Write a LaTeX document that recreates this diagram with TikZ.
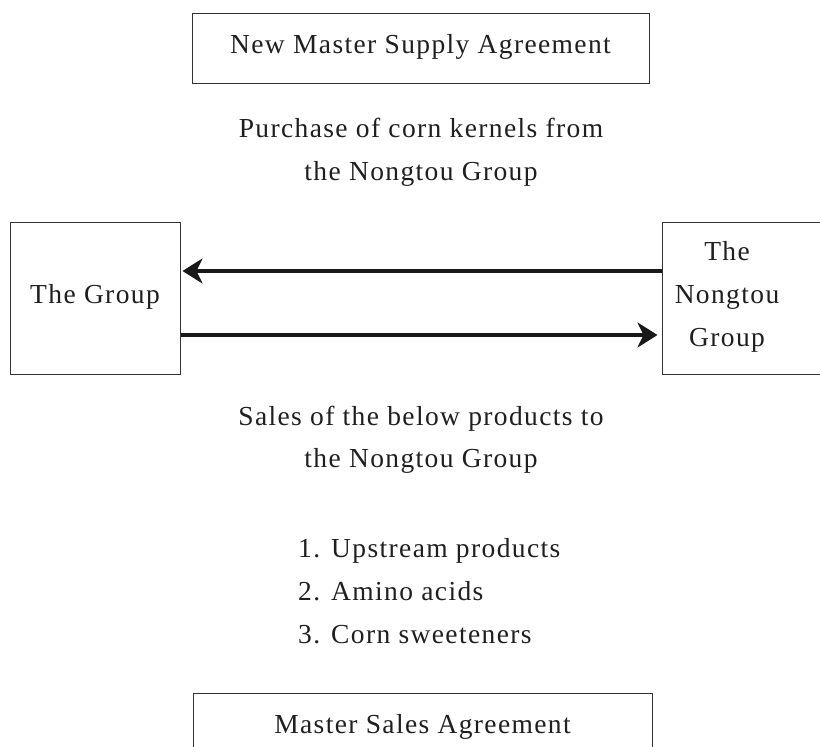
\documentclass[tikz,border=0pt]{standalone}
\usepackage{fontspec}
\setmainfont[LetterSpace=5]{Liberation Serif}
\usetikzlibrary{arrows.meta}
\begin{document}
\begin{tikzpicture}[x=1pt,y=-1pt,
  txt/.style={font=\fontsize{27.5}{43}\selectfont, inner sep=0pt, anchor=base, text=black!88},
  boxed/.style={draw=black!80, line width=1pt, inner sep=0pt},
  flow/.style={line width=3.2pt, draw=black!90, -{Stealth[length=20pt,width=25pt,inset=6pt]}}]
\useasboundingbox (0,0) rectangle (820,747);
\clip (0,0) rectangle (820,747);
% boxes
\node[boxed, minimum width=457pt, minimum height=70pt] (top) at (420.5,48) {};
\node[txt] (toptxt) at (420.5,53) {New Master Supply Agreement};
\node[boxed, minimum width=170pt, minimum height=152pt] (grp) at (95,298) {};
\node[txt] (grptxt) at (95,303) {The Group};
\node[boxed, minimum width=168pt, minimum height=152pt] (ngt) at (746,298) {};
\node[txt] (ngt1) at (727,260) {The};
\node[txt] (ngt2) at (727,303) {Nongtou};
\node[txt] (ngt3) at (727,346) {Group};
\node[boxed, minimum width=459pt, minimum height=80pt] (bot) at (422.5,733) {};
\node[txt] (bottxt) at (422.5,733) {Master Sales Agreement};
% labels
\node[txt] (p1) at (421,137) {Purchase of corn kernels from};
\node[txt] (p2) at (421,180) {the Nongtou Group};
\node[txt] (s1) at (421,425) {Sales of the below products to};
\node[txt] (s2) at (421,467) {the Nongtou Group};
\node[txt, anchor=base west] (l1) at (298,557) {1. Upstream products};
\node[txt, anchor=base west] (l2) at (298,600) {2. Amino acids};
\node[txt, anchor=base west] (l3) at (298,643) {3. Corn sweeteners};
% arrows
\coordinate (a1s) at (ngt.west |- 0,271);
\coordinate (a1e) at ([xshift=2pt]grp.east |- 0,271);
\coordinate (a2s) at (grp.east |- 0,335);
\coordinate (a2e) at ([xshift=-4pt]ngt.west |- 0,335);
\draw[flow] (a1s) -- (a1e);
\draw[flow] (a2s) -- (a2e);
\end{tikzpicture}
\end{document}
